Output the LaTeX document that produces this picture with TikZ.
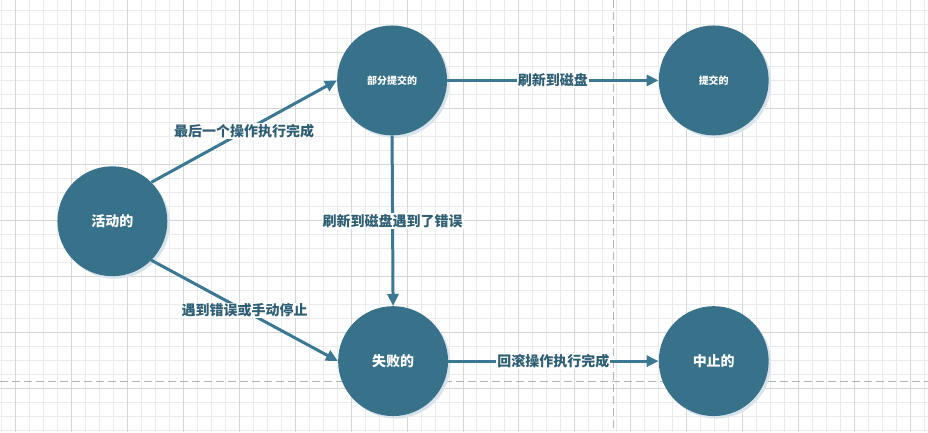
\documentclass[tikz,border=0pt]{standalone}
\usepackage{fontspec}
\setmainfont{Noto Sans CJK SC}
\usetikzlibrary{arrows.meta,shadows}
\definecolor{stateblue}{HTML}{37718A}
\definecolor{edgeblue}{HTML}{3B7893}
\definecolor{labelblue}{HTML}{2E5E74}
\definecolor{gridminor}{HTML}{EBEBEB}
\definecolor{gridmajor}{HTML}{D6D6D6}
\definecolor{guidegray}{HTML}{B4B4B4}
\definecolor{shadowblue}{HTML}{D8E3EA}

\begin{document}
\begin{tikzpicture}[x=1pt, y=-1pt,
    state/.style={circle, fill=stateblue, minimum size=110pt, inner sep=0pt, text=white,
      drop shadow={shadow xshift=2.5pt, shadow yshift=-2.5pt, fill=shadowblue, opacity=1},
      font=\bfseries\fontsize{14}{14}\selectfont},
    smalltext/.style={font=\bfseries\fontsize{10}{10}\selectfont},
    arrow/.style={-{Triangle[length=12pt,width=11pt]}, draw=edgeblue, line width=3pt},
    lbl/.style={fill=white, text=labelblue, inner sep=1pt, font=\bfseries\fontsize{14}{14}\selectfont}
]
  % Grid
  \fill[white] (0,0) rectangle (928,432);
  \foreach \x in {1,15,...,925} \draw[gridminor, line width=1pt] (\x,0) -- (\x,432);
  \foreach \y in {10,24,...,430} \draw[gridminor, line width=1pt] (0,\y) -- (928,\y);
  \foreach \x in {15,71,...,911} \draw[gridmajor, line width=1pt] (\x,0) -- (\x,432);
  \foreach \y in {52,108,...,388} \draw[gridmajor, line width=1pt] (0,\y) -- (928,\y);
  \draw[guidegray, line width=1pt, dash pattern=on 8pt off 4pt] (614,0) -- (614,432);
  \draw[guidegray, line width=1pt, dash pattern=on 8pt off 4pt] (0,381) -- (928,381);

  % States
  \node (active) [state] at (112,221) {活动的};
  \node (partial) [state, smalltext] at (392,80) {部分提交的};
  \node (committed) [state, smalltext] at (714,80) {提交的};
  \node (failed) [state] at (393,361) {失败的};
  \node (aborted) [state] at (714,361) {中止的};

  % Transitions
  \draw [arrow] (active.45) -- node[lbl] {最后一个操作执行完成} (partial.west);
  \draw [arrow] (active.-45) -- node[lbl] {遇到错误或手动停止} (failed.west);
  \draw [arrow] (partial.south) -- node[lbl] {刷新到磁盘遇到了错误} (failed.north);
  \draw [arrow] (partial.east) -- node[lbl] {刷新到磁盘} (committed.west);
  \draw [arrow] (failed.east) -- node[lbl] {回滚操作执行完成} (aborted.west);

  \useasboundingbox (0,0) rectangle (928,432);
\end{tikzpicture}
\end{document}
